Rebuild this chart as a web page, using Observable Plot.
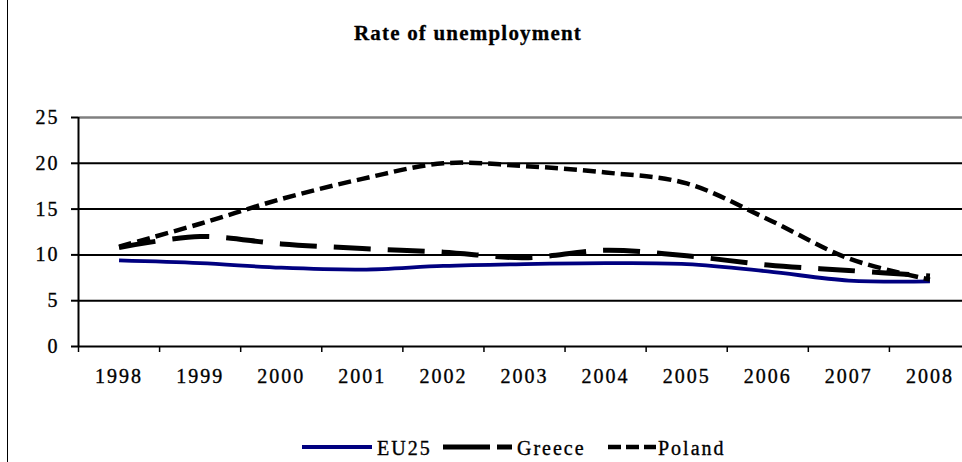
<!DOCTYPE html>
<html>
<head>
<meta charset="utf-8">
<script src="https://cdn.jsdelivr.net/npm/d3@7"></script>
<script src="https://cdn.jsdelivr.net/npm/@observablehq/plot@0.6"></script>
<style>
  html, body { margin: 0; padding: 0; background: #fff; }
  #wrap { position: relative; width: 962px; height: 462px; overflow: hidden; background: #fff; font-family: "Liberation Serif", "Times New Roman", serif; }
  #vline { position: absolute; left: 7px; top: 0; width: 1px; height: 462px; background: #000; z-index: 5; }
  #title { position: absolute; left: 0; width: 936px; top: 23px; text-align: center; font-weight: bold; font-size: 21px; line-height: 21px; letter-spacing: 1.2px; color: #000; -webkit-text-stroke: 0.3px #000; }
  #chart { position: absolute; left: 0; top: 100px; }
  #chart svg text { font-family: "Liberation Serif", "Times New Roman", serif; letter-spacing: 2px; stroke: #000; stroke-width: 0.35px; }
  #legend { position: absolute; top: 438px; left: 0; width: 962px; height: 20px; font-size: 20px; line-height: 20px; letter-spacing: 2px; color: #000; -webkit-text-stroke: 0.35px #000; }
  .sw { position: absolute; top: 0; }
  .lt { position: absolute; top: 0; white-space: nowrap; }
</style>
</head>
<body>
<div id="wrap">
  <div id="vline"></div>
  <div id="title">Rate of unemployment</div>
  <div id="chart"></div>
  <div id="legend"></div>
</div>
<script>
const years = [1998, 1999, 2000, 2001, 2002, 2003, 2004, 2005, 2006, 2007, 2008];
const eu25   = [9.4, 9.1, 8.6, 8.4, 8.8, 9.0, 9.1, 9.0, 8.2, 7.2, 7.1];
const greece = [10.8, 12.0, 11.2, 10.7, 10.3, 9.7, 10.5, 9.9, 8.9, 8.3, 7.7];
const poland = [10.9, 13.4, 16.1, 18.3, 20.0, 19.7, 19.0, 17.8, 13.9, 9.6, 7.3];
const seriesNames = ["EU25", "Greece", "Poland"];
const yTicks = [0, 5, 10, 15, 20, 25];

const seriesValues = [eu25, greece, poland];
const styles = {
  EU25:   {stroke: "#000080", strokeWidth: 3.8, dash: null},
  Greece: {stroke: "#000000", strokeWidth: 5,   dash: "37,17"},
  Poland: {stroke: "#000000", strokeWidth: 4.5, dash: "13,6"}
};

const data = [];
seriesNames.forEach((s, i) => years.forEach((y, j) => data.push({series: s, year: y, value: seriesValues[i][j]})));

const boundaries = years.map(y => y - 0.5);

const lineMarks = seriesNames.map(s => Plot.line(data.filter(d => d.series === s), {
  x: "year", y: "value",
  stroke: styles[s].stroke,
  strokeWidth: styles[s].strokeWidth,
  strokeDasharray: styles[s].dash,
  strokeLinecap: "butt",
  curve: "catmull-rom"
}));

const chart = Plot.plot({
  width: 962,
  height: 290,
  marginTop: 17,
  marginBottom: 44,
  marginLeft: 78,
  marginRight: 0,
  style: "font-family: 'Liberation Serif', 'Times New Roman', serif; font-size: 20px; color: #000; background: transparent; overflow: visible;",
  x: {type: "linear", domain: [years[0] - 0.5, years[years.length - 1] + 0.5], range: [78, 970]},
  y: {domain: [0, 25]},
  marks: [
    Plot.ruleY(yTicks.filter(t => t < 25), {stroke: "#000", strokeWidth: 2}),
    Plot.ruleY([25], {stroke: "#808080", strokeWidth: 2.5}),
    Plot.ruleX([years[0] - 0.5], {y1: 0, y2: 25, stroke: "#000", strokeWidth: 2}),
    Plot.axisY({ticks: yTicks, tickSize: 7, tickPadding: 12, strokeWidth: 2, fontSize: 20, tickFormat: d => String(d), label: null}),
    Plot.axisX({ticks: boundaries, tickSize: 6, strokeWidth: 1.5, tickFormat: () => "", label: null}),
    Plot.axisX({ticks: years, tickSize: 0, tickPadding: 22, fontSize: 20, tickFormat: d => String(d), label: null}),
    ...lineMarks
  ]
});
document.getElementById("chart").appendChild(chart);

// Legend
const legend = document.getElementById("legend");
const legendItems = [
  {name: "EU25",   swX: 302, swW: 70, textX: 377, dash: null},
  {name: "Greece", swX: 443, swW: 69, textX: 517, dash: "47,7,15,100"},
  {name: "Poland", swX: 608, swW: 48, textX: 658, dash: "13,5"}
];
legendItems.forEach(it => {
  const st = styles[it.name];
  const ns = "http://www.w3.org/2000/svg";
  const svg = document.createElementNS(ns, "svg");
  svg.setAttribute("width", it.swW);
  svg.setAttribute("height", 20);
  svg.setAttribute("class", "sw");
  svg.style.left = it.swX + "px";
  const ln = document.createElementNS(ns, "line");
  ln.setAttribute("x1", 0); ln.setAttribute("x2", it.swW);
  ln.setAttribute("y1", 9); ln.setAttribute("y2", 9);
  ln.setAttribute("stroke", st.stroke);
  ln.setAttribute("stroke-width", st.strokeWidth);
  if (it.dash) ln.setAttribute("stroke-dasharray", it.dash);
  svg.appendChild(ln);
  legend.appendChild(svg);
  const t = document.createElement("span");
  t.className = "lt";
  t.style.left = it.textX + "px";
  t.textContent = it.name;
  legend.appendChild(t);
});
</script>
</body>
</html>
